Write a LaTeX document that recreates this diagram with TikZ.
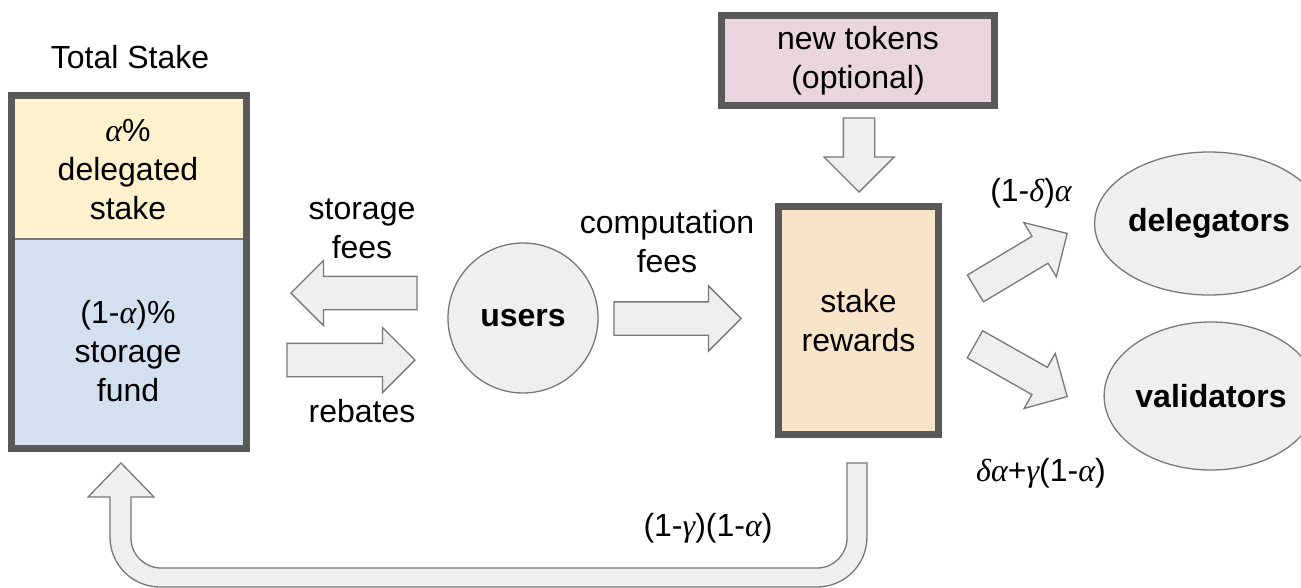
\documentclass[tikz,border=0pt]{standalone}
\usepackage{fontspec}
\setmainfont{Liberation Sans}
\newfontfamily\greekit{Liberation Serif}[Scale=1.0]
\newcommand{\GAl}{{\greekit\itshape α}}
\newcommand{\GDe}{{\greekit\itshape δ}}
\newcommand{\GGa}{{\greekit\itshape γ}}
\usetikzlibrary{shapes.arrows,shapes.geometric}
\definecolor{boxline}{HTML}{595959}
\definecolor{arrfill}{HTML}{EFEFEF}
\definecolor{arrline}{HTML}{787878}
\definecolor{yelfill}{HTML}{FDF1CE}
\definecolor{blufill}{HTML}{D3E0F0}
\definecolor{pinkfill}{HTML}{E8D5DE}
\definecolor{tanfill}{HTML}{F8E4C8}
\begin{document}
\begin{tikzpicture}[x=1pt,y=-1pt,
  every node/.style={font=\fontsize{32}{39}\selectfont, text=black},
  barrow/.style={single arrow, draw=arrline, fill=arrfill, line width=1.3pt,
    inner xsep=0pt, inner ysep=16pt, single arrow head extend=16pt,
    single arrow tip angle=90, anchor=tip},
  thickbox/.style={draw=boxline, line width=7pt, inner sep=0pt},
  softshape/.style={draw=arrline, fill=arrfill, line width=1.3pt, inner sep=0pt}]
\useasboundingbox (0,0) rectangle (1301,587);
\clip (0,0) rectangle (1301,587);

% Total stake box
\fill[yelfill] (11.5,95.5) rectangle (246.5,239);
\fill[blufill] (11.5,239) rectangle (246.5,448.5);
\draw[draw=arrline, line width=1.5pt] (11.5,239) -- (246.5,239);
\node[thickbox, minimum width=235pt, minimum height=353pt] (stake) at (129,272) {};
\node (title) at (130,57) {Total Stake};
\node[align=center] (deleg) at (128,170) {\GAl\%\\delegated\\stake};
\node[align=center] (fund) at (128,351) {(1-\GAl)\%\\storage\\fund};

% users
\node[circle, softshape, minimum size=150pt, font=\fontsize{32}{39}\selectfont\bfseries] (users) at (523,318) {users};

% arrows left
\node[barrow, minimum height=126pt, shape border rotate=180] (sfarrow) at (290,293) {};
\node[barrow, minimum height=128pt] (rbarrow) at (416,360) {};
\node[align=center] (lblsf) at (362,229) {storage\\fees};
\node (lblrb) at (362,411) {rebates};

% computation fees
\node[barrow, minimum height=127pt] (cfarrow) at (742,318.5) {};
\node[align=center] (lblcf) at (667,242) {computation\\fees};

% new tokens
\node[thickbox, fill=pinkfill, minimum width=273pt, minimum height=90pt, align=center] (tokens) at (858,60.5) {new tokens\\(optional)};
\node[barrow, minimum height=74pt, inner ysep=15pt, single arrow head extend=19.5pt, rotate=-90] (ntarrow) at (859,193) {};

% stake rewards
\node[thickbox, fill=tanfill, minimum width=160pt, minimum height=228pt, align=center] (rewards) at (858.5,320.5) {stake\\rewards};

% diagonal arrows
\node[barrow, minimum height=107pt, inner ysep=15pt, single arrow head extend=16pt, rotate=30.9] (dgarrow) at (1068,233) {};
\node[barrow, minimum height=106pt, inner ysep=15pt, single arrow head extend=16pt, rotate=-29.5] (vlarrow) at (1068,397) {};
\node (lbld) at (1031,193) {(1-\GDe)\GAl};
\node (lblv) at (1041,473) {\GDe\GAl+\GGa(1-\GAl)};

% ellipses
\node[ellipse, softshape, minimum width=198pt, minimum height=143pt, font=\fontsize{32}{39}\selectfont\bfseries] (delegators) at (1209,223.5) {delegators};
\node[ellipse, softshape, minimum width=196pt, minimum height=148pt, font=\fontsize{32}{39}\selectfont\bfseries] (validators) at (1211,396) {validators};

% U-shaped return arrow
\draw[draw=arrline, fill=arrfill, line width=1.3pt]
  (867,463) -- (867,537) .. controls (867,564.6) and (844.6,587) .. (817,587)
  -- (160,587) .. controls (132.4,587) and (110,564.6) .. (110,537)
  -- (110,497) -- (88,497) -- (121,463) -- (154,497) -- (131,497)
  -- (131,538) .. controls (131,554.6) and (144.4,568) .. (161,568)
  -- (817,568) .. controls (833.6,568) and (847,554.6) .. (847,538)
  -- (847,463) -- cycle;
\node (lblu) at (708,528) {(1-\GGa)(1-\GAl)};
\end{tikzpicture}
\end{document}
